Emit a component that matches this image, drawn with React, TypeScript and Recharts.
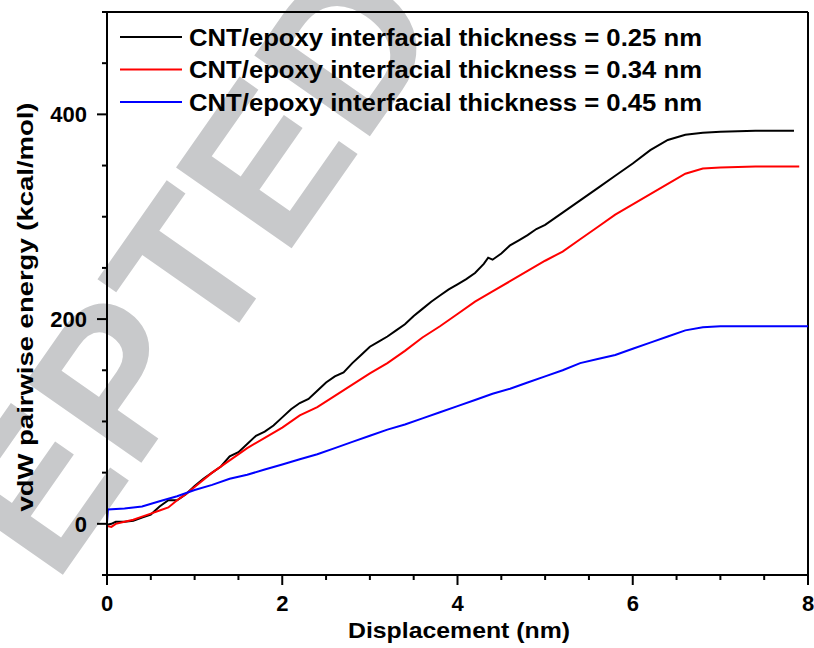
import { LineChart, Line, XAxis, YAxis, ReferenceLine } from 'recharts';

// black: interfacial thickness 0.25 nm
const blackX = [0, 0.05, 0.1, 0.2, 0.3, 0.4, 0.5, 0.6, 0.7, 0.8, 0.9, 1.0, 1.1, 1.2, 1.3, 1.4, 1.5, 1.6, 1.7, 1.8, 1.9, 2.0, 2.1, 2.2, 2.3, 2.4, 2.5, 2.6, 2.7, 2.8, 2.9, 3.0, 3.1, 3.2, 3.3, 3.4, 3.5, 3.6, 3.7, 3.8, 3.9, 4.0, 4.1, 4.2, 4.3, 4.35, 4.4, 4.5, 4.6, 4.7, 4.8, 4.9, 5.0, 5.2, 5.4, 5.6, 5.8, 6.0, 6.2, 6.4, 6.6, 6.8, 7.0, 7.4, 7.84];
const blackY = [-1, 0, 2, 2, 3, 6, 9, 17, 23, 23, 29, 37, 44, 50, 56, 66, 70, 78, 86, 90, 96, 104, 112, 118, 122, 130, 138, 144, 148, 157, 165, 173, 178, 183, 189, 195, 203, 210, 217, 223, 229, 234, 239, 245, 254, 260, 258, 264, 272, 277, 282, 288, 292, 304, 316, 328, 340, 352, 365, 375, 380, 382, 383, 384, 384];

// red: 0.34 nm
const redX = [0, 0.05, 0.1, 0.2, 0.3, 0.4, 0.5, 0.6, 0.7, 0.8, 0.9, 1.0, 1.2, 1.4, 1.6, 1.8, 2.0, 2.2, 2.4, 2.6, 2.8, 3.0, 3.2, 3.4, 3.6, 3.8, 4.0, 4.2, 4.4, 4.6, 4.8, 5.0, 5.2, 5.4, 5.6, 5.8, 6.0, 6.2, 6.4, 6.6, 6.8, 7.0, 7.4, 7.9];
const redY = [-2, -3, 0, 2, 4, 7, 10, 13, 16, 23, 29, 36, 50, 62, 74, 84, 94, 106, 114, 125, 136, 147, 157, 169, 182, 193, 205, 217, 227, 237, 247, 257, 266, 278, 290, 302, 312, 322, 332, 342, 347, 348, 349, 349];

// blue: 0.45 nm
const blueX = [0, 0.01, 0.2, 0.4, 0.6, 0.8, 1.0, 1.2, 1.4, 1.6, 1.8, 2.0, 2.2, 2.4, 2.6, 2.8, 3.0, 3.2, 3.4, 3.6, 3.8, 4.0, 4.2, 4.4, 4.6, 4.8, 5.0, 5.2, 5.4, 5.6, 5.8, 6.0, 6.2, 6.4, 6.6, 6.8, 7.0, 8.0];
const blueY = [1, 14, 15, 17, 22, 27, 33, 38, 44, 48, 53, 58, 63, 68, 74, 80, 86, 92, 97, 103, 109, 115, 121, 127, 132, 138, 144, 150, 157, 161, 165, 171, 177, 183, 189, 192, 193, 193];

const xTicks = [0, 0.5, 1, 1.5, 2, 2.5, 3, 3.5, 4, 4.5, 5, 5.5, 6, 6.5, 7, 7.5, 8];
const yTicks = [-50, 0, 50, 100, 150, 200, 250, 300, 350, 400, 450, 500];

const seriesLabels = [
  'CNT/epoxy interfacial thickness = 0.25 nm',
  'CNT/epoxy interfacial thickness = 0.34 nm',
  'CNT/epoxy interfacial thickness = 0.45 nm',
];
const seriesColors = ['#000000', '#ff0000', '#0000ff'];

const toPoints = (xs: number[], ys: number[]) => xs.map((x, i) => ({ x, y: ys[i] }));
const series = [toPoints(blackX, blackY), toPoints(redX, redY), toPoints(blueX, blueY)];

const FONT = '"Liberation Sans", Arial, sans-serif';

const XTick = (props: any) => {
  const { x, y, payload } = props;
  const v = payload.value;
  const major = v % 2 === 0;
  return (
    <g>
      <line x1={x} x2={x} y1={y} y2={y + (major ? 10 : 5)} stroke="#000" strokeWidth={2} />
      {major && (
        <text x={x} y={y + 36} textAnchor="middle" fontSize={22} fontWeight="bold" fontFamily={FONT} fill="#000">
          {v}
        </text>
      )}
    </g>
  );
};

const YTick = (props: any) => {
  const { x, y, payload } = props;
  const v = payload.value;
  const major = v % 200 === 0;
  return (
    <g>
      <line x1={x} x2={x - (major ? 10 : 5)} y1={y} y2={y} stroke="#000" strokeWidth={2} />
      {major && (
        <text x={x - 20} y={y + 8} textAnchor="end" fontSize={22} fontWeight="bold" fontFamily={FONT} fill="#000">
          {v}
        </text>
      )}
    </g>
  );
};

export default function App() {
  return (
    <div style={{ position: 'absolute', left: 0, top: 0, width: 814, height: 648, background: '#fff', overflow: 'hidden' }}>
      {/* watermark, legend and axis titles sit underneath the chart */}
      <svg width={814} height={648} style={{ position: 'absolute', left: 0, top: 0 }}>
        <g transform="translate(55,586) rotate(-55)" fontFamily={FONT} fontWeight="bold" fontSize={205} fill="#c8c9cb">
          <text x={0} y={0} textAnchor="start">EPTED</text>
        </g>
        {seriesLabels.map((label, i) => {
          const ly = 37 + i * 32.5;
          return (
            <g key={label}>
              <line x1={120} x2={182} y1={ly} y2={ly} stroke={seriesColors[i]} strokeWidth={2} />
              <text x={189} y={ly + 8.5} fontSize={23} fontWeight="bold" fontFamily={FONT} fill="#000" textLength={513} lengthAdjust="spacingAndGlyphs">
                {label}
              </text>
            </g>
          );
        })}
        <text transform="translate(33,307) rotate(-90)" textAnchor="middle" fontSize={22} fontWeight="bold" fontFamily={FONT} fill="#000" textLength={409} lengthAdjust="spacingAndGlyphs">
          vdW pairwise energy (kcal/mol)
        </text>
        <text x={459} y={638} textAnchor="middle" fontSize={22} fontWeight="bold" fontFamily={FONT} fill="#000" textLength={222} lengthAdjust="spacingAndGlyphs">
          Displacement (nm)
        </text>
      </svg>
      <div style={{ position: 'absolute', left: 0, top: 0 }}>
        <LineChart width={814} height={648} margin={{ top: 12, right: 6, bottom: 0, left: 0 }}>
          <XAxis
            type="number"
            dataKey="x"
            domain={[0, 8]}
            ticks={xTicks}
            interval={0}
            height={73}
            tickSize={0}
            tickMargin={0}
            tick={<XTick />}
            axisLine={{ stroke: '#000', strokeWidth: 2 }}
            allowDataOverflow
          />
          <YAxis
            type="number"
            dataKey="y"
            domain={[-50, 500]}
            ticks={yTicks}
            interval={0}
            width={107}
            tickSize={0}
            tickMargin={0}
            tick={<YTick />}
            axisLine={{ stroke: '#000', strokeWidth: 2 }}
            allowDataOverflow
          />
          <ReferenceLine y={500} stroke="#000" strokeWidth={2} />
          <ReferenceLine x={8} stroke="#000" strokeWidth={2} />
          {series.map((data, i) => (
            <Line
              key={seriesLabels[i]}
              data={data}
              dataKey="y"
              type="linear"
              stroke={seriesColors[i]}
              strokeWidth={2}
              dot={false}
              activeDot={false}
              isAnimationActive={false}
            />
          ))}
        </LineChart>
      </div>
    </div>
  );
}
